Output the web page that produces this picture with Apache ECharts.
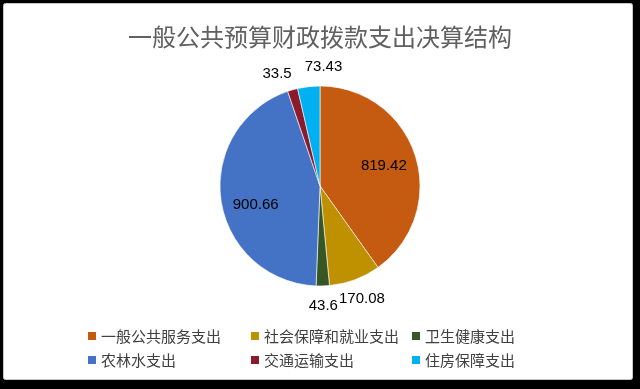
<!DOCTYPE html>
<html><head><meta charset="utf-8">
<script src="https://cdn.jsdelivr.net/npm/echarts@6/dist/echarts.min.js"></script>
<style>html,body{margin:0;padding:0;background:#000;}#c{width:640px;height:389px;}</style>
</head><body><div id="c"></div>
<script>
const titleText = '一般公共预算财政拨款支出决算结构';
const categories = ['一般公共服务支出','社会保障和就业支出','卫生健康支出','农林水支出','交通运输支出','住房保障支出'];
const values = [819.42, 170.08, 43.6, 900.66, 33.5, 73.43];
const colors = ['#C55A11','#BF9000','#375623','#4472C4','#8B1A2A','#00B0F0'];

const cx = 320, cy = 186, R = 100;
const total = values.reduce((a,b)=>a+b,0);
const mids = [];
let acc = 0;
values.forEach(v => { const span = v/total*360; mids.push((acc+span/2)*Math.PI/180); acc += span; });
const nudge = {3:[2,9],4:[-10,3],5:[17,0]};

const chart = echarts.init(document.getElementById('c'));
const font = '"Noto Sans CJK SC", "Liberation Sans", sans-serif';
chart.setOption({
  backgroundColor: '#000',
  graphic: [{type:'rect', z:-10, silent:true, shape:{x:3.5,y:3.5,width:629,height:376,r:2}, style:{fill:'#fff',stroke:'#c8c8c8',lineWidth:1}}],
  title: {text: titleText, left:'center', top:20, textStyle:{fontSize:24, fontWeight:'normal', color:'#606060', fontFamily:font}},
  color: colors,
  legend: [0,1,2].map((col,i)=>({
    orient:'vertical', left:[81,244,405][i], top:323, itemWidth:10, itemHeight:10, itemGap:8, icon:'rect',
    data:[categories[i], categories[i+3]],
    textStyle:{fontSize:15, color:'#404040', fontFamily:font, padding:[0,0,0,-1], lineHeight:16}
  })),
  series: [{
    type:'pie', center:[cx,cy], radius:R, startAngle:90, clockwise:true,
    itemStyle:{borderColor:'#fff', borderWidth:0.6},
    label:{show:true, position:'inside', formatter:'{c}', color:'#000', fontSize:15, fontFamily:'"Liberation Sans", Arial, sans-serif'},
    labelLine:{show:false},
    labelLayout: function(p){
      const i = p.dataIndex; const a = mids[i];
      const r = values[i] > 400 ? 0.67*R : R + 20;
      const n = nudge[i] || [0,0];
      return {x: cx + r*Math.sin(a) + n[0], y: cy - r*Math.cos(a) + n[1], align:'center', verticalAlign:'middle'};
    },
    emphasis:{disabled:true},
    data: categories.map((c,i)=>({name:c, value:values[i]}))
  }]
});
</script></body></html>
